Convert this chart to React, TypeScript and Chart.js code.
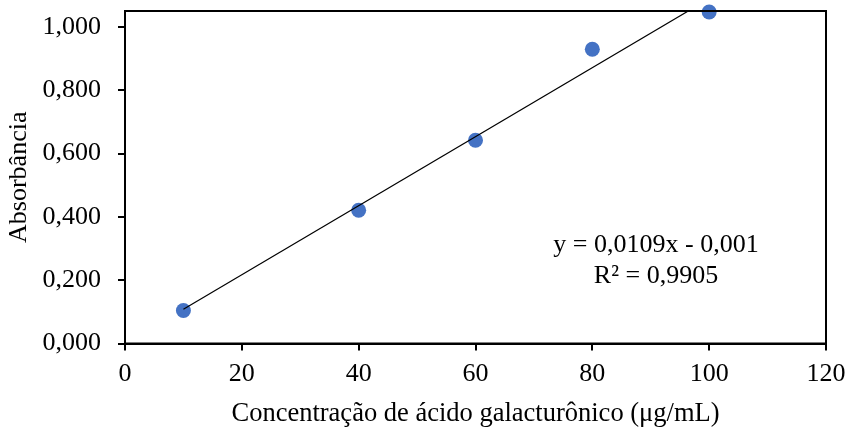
import React, { useEffect, useRef } from "react";
import { Chart, registerables } from "chart.js";

Chart.register(...registerables);

const concentrations = [10, 40, 60, 80, 100];
const absorbances = [0.104, 0.421, 0.642, 0.929, 1.047];
const slope = 0.0109;
const intercept = -0.001;
const yTicks = [0, 0.2, 0.4, 0.6, 0.8, 1.0];
const equationLines = ["y = 0,0109x - 0,001", "R² = 0,9905"];
const xTitle = "Concentração de ácido galacturônico (μg/mL)";
const yTitle = "Absorbância";

const FONT = "'Liberation Serif', 'Times New Roman', serif";

export default function App() {
  const ref = useRef<HTMLCanvasElement | null>(null);
  useEffect(() => {
    document.body.style.margin = "0";
    const canvas = ref.current!;
    const xStart = concentrations[0];
    const xEnd = concentrations[concentrations.length - 1];
    const framePlugin = {
      id: "frame",
      afterDatasetsDraw(chart: any) {
        const { ctx, chartArea } = chart;
        ctx.save();
        ctx.strokeStyle = "#000";
        ctx.lineWidth = 2;
        ctx.strokeRect(chartArea.left, chartArea.top, chartArea.right - chartArea.left, chartArea.bottom - chartArea.top);
        ctx.restore();
      },
      afterDraw(chart: any) {
        const { ctx, chartArea } = chart;
        const w = chartArea.right - chartArea.left;
        const h = chartArea.bottom - chartArea.top;
        ctx.save();
        ctx.fillStyle = "#000";
        ctx.font = `26px ${FONT}`;
        ctx.textAlign = "center";
        ctx.textBaseline = "alphabetic";
        const cx = chartArea.left + 0.7575 * w;
        ctx.fillText(equationLines[0], cx, chartArea.top + 0.7257 * h);
        ctx.fillText(equationLines[1], cx, chartArea.top + 0.817 * h);
        ctx.restore();
      },
    };
    const chart = new Chart(canvas, {
      type: "scatter",
      data: {
        datasets: [
          {
            type: "line",
            data: [
              { x: xStart, y: slope * xStart + intercept },
              { x: xEnd, y: slope * xEnd + intercept },
            ],
            borderColor: "#000",
            borderWidth: 1.2,
            pointRadius: 0,
            fill: false,
            clip: 0,
          } as any,
          {
            data: concentrations.map((x, i) => ({ x, y: absorbances[i] })),
            backgroundColor: "#4472C4",
            borderWidth: 0,
            pointRadius: 7.5,
            clip: false,
          } as any,
        ],
      },
      options: {
        responsive: false,
        animation: false,
        layout: { padding: { top: 11, right: 25, left: 0, bottom: 0 } },
        plugins: { legend: { display: false }, tooltip: { enabled: false } },
        scales: {
          x: {
            type: "linear",
            min: 0,
            max: 120,
            ticks: { stepSize: 20, color: "#000", font: { family: FONT, size: 26 }, padding: 8 },
            grid: { drawOnChartArea: false, color: "#000", lineWidth: 2, tickLength: 7 },
            border: { color: "#000", width: 2 },
            title: { display: true, text: xTitle, color: "#000", font: { family: FONT, size: 26.5 }, padding: { top: 0, bottom: 2 } },
            afterFit(scale: any) {
              scale.height = 88.5;
              scale.paddingLeft = 0;
              scale.paddingRight = 0;
            },
          },
          y: {
            type: "linear",
            min: 0,
            max: 1.05,
            afterBuildTicks(scale: any) { scale.ticks = yTicks.map((v) => ({ value: v })); },
            ticks: {
              color: "#000",
              font: { family: FONT, size: 26 },
              padding: 17,
              callback: (v: any) => Number(v).toFixed(3).replace(".", ","),
            },
            grid: { drawOnChartArea: false, color: "#000", lineWidth: 2, tickLength: 7 },
            border: { color: "#000", width: 2 },
            title: { display: true, text: yTitle, color: "#000", font: { family: FONT, size: 26 }, padding: { top: 4, bottom: 0 } },
            afterFit(scale: any) {
              scale.width = 125;
              scale.paddingTop = 0;
              scale.paddingBottom = 0;
            },
          },
        },
      },
      plugins: [framePlugin],
    } as any);
    return () => chart.destroy();
  }, []);
  return <canvas ref={ref} width={851} height={432} style={{ display: "block" }} />;
}
